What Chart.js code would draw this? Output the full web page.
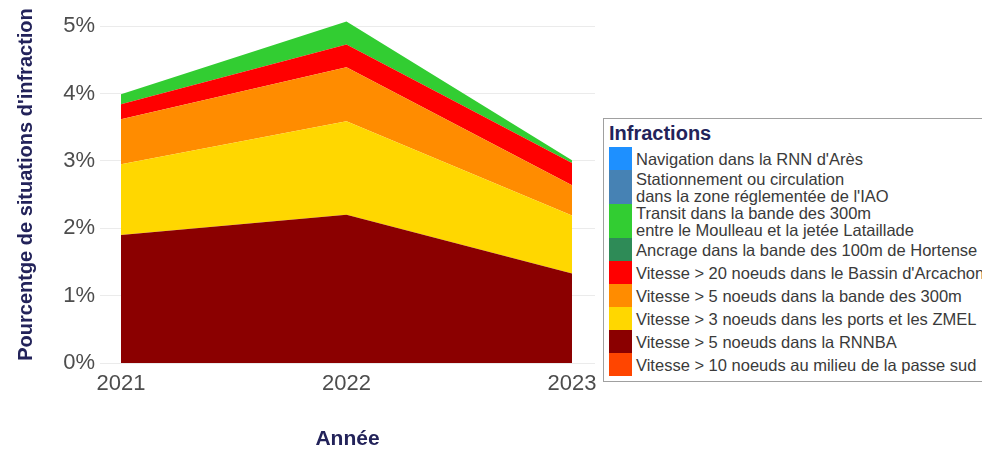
<!DOCTYPE html>
<html>
<head>
<meta charset="utf-8">
<script src="https://cdn.jsdelivr.net/npm/chart.js@4/dist/chart.umd.min.js"></script>
<style>
html,body{margin:0;padding:0;background:#fff;width:982px;height:450px;overflow:hidden;}
#wrap{position:absolute;left:0;top:0;width:982px;height:450px;}
#legend{position:absolute;left:603px;top:118px;width:420px;border:1px solid #a0a0a0;background:#fff;
  font-family:"Liberation Sans",Arial,sans-serif;box-sizing:border-box;padding:3px 0 5px 5px;}
#legend .ttl{font-weight:bold;font-size:20px;line-height:22px;color:#23235a;margin-bottom:3px;}
#legend .row{display:flex;align-items:stretch;}
#legend .key{width:23px;flex:none;}
#legend .lab{margin-left:4px;font-size:16.5px;line-height:17px;color:#3a3a3a;display:flex;align-items:center;white-space:nowrap;padding-top:2px;}
</style>
</head>
<body>
<div id="wrap"><canvas id="c" width="982" height="450"></canvas></div>
<div id="legend"></div>
<script>
// ---- data (in %) ----
const years = [2021, 2022, 2023];
const yTicks = [0, 1, 2, 3, 4, 5];

const navigationRNNAres      = [0, 0, 0];
const stationnementIAO       = [0, 0, 0];
const transitMoulleau        = [0.15, 0.34, 0.04];
const ancrageHortense        = [0, 0, 0];
const vitesse20Bassin        = [0.22, 0.34, 0.33];
const vitesse5Bande300       = [0.67, 0.80, 0.45];
const vitesse3PortsZMEL      = [1.05, 1.39, 0.86];
const vitesse5RNNBA          = [1.90, 2.20, 1.33];
const vitesse10PasseSud      = [0, 0, 0];

// legend order (top of legend first)
const seriesLabels = [
  ["Navigation dans la RNN d'Arès"],
  ["Stationnement ou circulation", "dans la zone réglementée de l'IAO"],
  ["Transit dans la bande des 300m", "entre le Moulleau et la jetée Lataillade"],
  ["Ancrage dans la bande des 100m de Hortense"],
  ["Vitesse > 20 noeuds dans le Bassin d'Arcachon"],
  ["Vitesse > 5 noeuds dans la bande des 300m"],
  ["Vitesse > 3 noeuds dans les ports et les ZMEL"],
  ["Vitesse > 5 noeuds dans la RNNBA"],
  ["Vitesse > 10 noeuds au milieu de la passe sud"]
];
const seriesValues = [
  navigationRNNAres, stationnementIAO, transitMoulleau, ancrageHortense,
  vitesse20Bassin, vitesse5Bande300, vitesse3PortsZMEL, vitesse5RNNBA, vitesse10PasseSud
];
const seriesColors = [
  "#1e90ff", "#4682b4", "#32cd32", "#2e8b57",
  "#ff0000", "#ff8c00", "#ffd700", "#8b0000", "#ff4500"
];

// ---- build datasets: stack bottom = last legend entry ----
const datasets = [];
for (let i = seriesLabels.length - 1; i >= 0; i--) {
  datasets.push({
    label: seriesLabels[i].join(" "),
    data: years.map((y, k) => ({x: y, y: seriesValues[i][k]})),
    backgroundColor: seriesColors[i],
    borderColor: seriesColors[i],
    borderWidth: 0,
    pointRadius: 0,
    pointHoverRadius: 0,
    tension: 0,
    fill: datasets.length === 0 ? "origin" : "-1"
  });
}

// ---- legend (HTML) ----
const lg = document.getElementById("legend");
const t = document.createElement("div");
t.className = "ttl"; t.textContent = "Infractions";
lg.appendChild(t);
seriesLabels.forEach((lines, i) => {
  const row = document.createElement("div");
  row.className = "row";
  row.style.height = (lines.length > 1 ? 34 : 23) + "px";
  const key = document.createElement("div");
  key.className = "key"; key.style.background = seriesColors[i];
  const lab = document.createElement("div");
  lab.className = "lab";
  lab.innerHTML = lines.map(s => s.replace(/&/g,"&amp;").replace(/</g,"&lt;").replace(/>/g,"&gt;")).join("<br>");
  row.appendChild(key); row.appendChild(lab);
  lg.appendChild(row);
});

// ---- chart ----
Chart.defaults.font.family = '"Liberation Sans", Arial, sans-serif';
const navy = "#23235a";
const tickCol = "#4d4d4d";

new Chart(document.getElementById("c"), {
  type: "line",
  data: {datasets},
  options: {
    responsive: false,
    animation: false,
    devicePixelRatio: 1,
    layout: {padding: {top: 6, right: 387, left: 0, bottom: 0}},
    plugins: {legend: {display: false}, tooltip: {enabled: false}},
    elements: {line: {borderWidth: 0}},
    scales: {
      x: {
        type: "linear",
        min: 2020.907,
        max: 2023.102,
        afterBuildTicks: s => { s.ticks = years.map(v => ({value: v})); },
        afterFit: s => { s.height = 87; s.paddingLeft = 0; s.paddingRight = 0; },
        ticks: {
          callback: v => String(v),
          font: {size: 22},
          color: tickCol,
          padding: 8,
          maxRotation: 0,
          autoSkip: false
        },
        grid: {display: false, drawTicks: false},
        border: {display: false},
        title: {
          display: true,
          text: "Année",
          color: navy,
          font: {size: 21, weight: "bold", lineHeight: 1},
          padding: {top: 0, bottom: 0}
        }
      },
      y: {
        stacked: true,
        min: 0,
        max: 5.3,
        afterBuildTicks: s => { s.ticks = yTicks.map(v => ({value: v})); },
        afterFit: s => { s.width = 100; s.paddingTop = 0; s.paddingBottom = 0; },
        ticks: {
          callback: v => v + "%",
          font: {size: 22},
          color: tickCol,
          padding: 5
        },
        grid: {color: "#ebebeb", lineWidth: 1, drawTicks: false},
        border: {display: false},
        title: {
          display: true,
          text: "Pourcentge de situations d'infraction",
          color: navy,
          font: {size: 20, weight: "bold"},
          padding: {top: 14, bottom: 0}
        }
      }
    }
  }
});
</script>
</body>
</html>
